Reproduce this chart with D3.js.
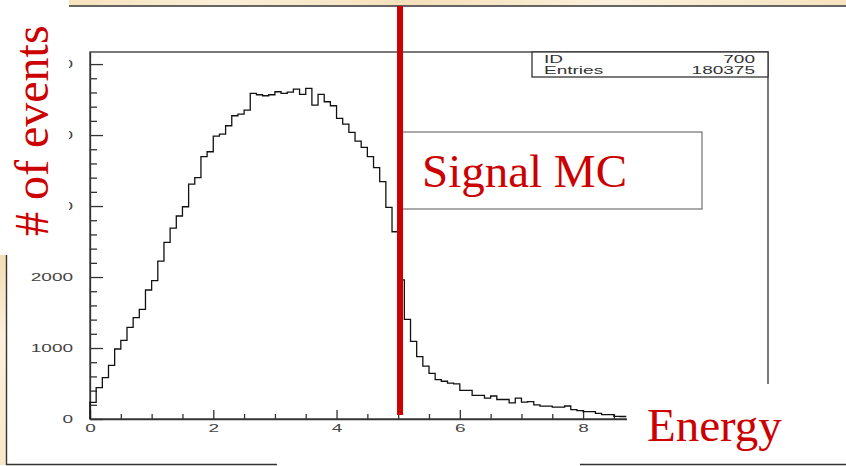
<!DOCTYPE html>
<html>
<head>
<meta charset="utf-8">
<script src="https://cdn.jsdelivr.net/npm/d3@7"></script>
<style>
  html, body { margin: 0; padding: 0; background: #fff; }
  svg { display: block; }
</style>
</head>
<body>
<svg id="chart" width="846" height="466"></svg>
<script>
// Energy histogram, 0.1-wide bins starting at 0
const binWidth = 0.1;
const counts = [
  235, 441, 582, 756, 986, 1108, 1291, 1427, 1545, 1817,
  1948, 2225, 2488, 2690, 2860, 2990, 3310, 3399, 3695, 3765,
  3986, 4014, 4131, 4272, 4296, 4352, 4587, 4568, 4554, 4568,
  4610, 4587, 4606, 4648, 4573, 4657, 4423, 4573, 4469, 4413,
  4235, 4155, 4038, 3915, 3826, 3695, 3540, 3343, 2981, 2638,
  1959, 1403, 1093, 879, 746, 642, 556, 532, 505, 495,
  404, 404, 332, 332, 294, 324, 275, 275, 228, 294,
  237, 246, 199, 180, 180, 166, 166, 183, 132, 118,
  104, 104, 80, 61, 61, 37, 35
];
const xMajorTicks = [0, 2, 4, 6, 8];
const xMinorTicks = [0.5, 1, 1.5, 2.5, 3, 3.5, 4.5, 5, 5.5, 6.5, 7, 7.5, 8.5];
const yMajorTicks = [0, 1000, 2000, 3000, 4000, 5000];
const yMinorTicks = d3.range(200, 5200, 200).filter(v => v % 1000 !== 0);
const statsRows = [["ID", "700"], ["Entries", "180375"]];
const cutEnergy = 5.03;
const signalLabel = "Signal MC";
const xTitle = "Energy";
const yTitle = "# of events";

const svg = d3.select("#chart");
const red = "#cc0000";
const ink = "#333";

const x = d3.scaleLinear().domain([0, 11]).range([90, 768]);
const y = d3.scaleLinear().domain([0, 5170]).range([419, 52]);

// stretch ROOT-style labels horizontally
function widen(sel, k) {
  sel.each(function () {
    const w = this.getComputedTextLength();
    d3.select(this).attr("textLength", w * k).attr("lengthAdjust", "spacingAndGlyphs");
  });
}

// frame
svg.append("rect")
  .attr("x", x(0)).attr("y", y(5170))
  .attr("width", x(11) - x(0)).attr("height", y(0) - y(5170))
  .attr("fill", "none").attr("stroke", ink).attr("stroke-width", 1.3);

// axes
const gx = svg.append("g").attr("transform", `translate(0,${y(0)})`);
gx.call(d3.axisBottom(x).tickValues(xMajorTicks).tickSize(-9).tickSizeOuter(0).tickPadding(6).tickFormat(d3.format("d")));
const gxm = svg.append("g").attr("transform", `translate(0,${y(0)})`);
gxm.call(d3.axisBottom(x).tickValues(xMinorTicks).tickSize(-5).tickFormat(""));
gxm.select(".domain").remove();

const gy = svg.append("g").attr("transform", `translate(${x(0)},0)`);
gy.call(d3.axisLeft(y).tickValues(yMajorTicks).tickSize(-13).tickSizeOuter(0).tickPadding(17).tickFormat(d3.format("d")));
const gym = svg.append("g").attr("transform", `translate(${x(0)},0)`);
gym.call(d3.axisLeft(y).tickValues(yMinorTicks).tickSize(-7).tickFormat(""));
gym.select(".domain").remove();

svg.selectAll(".domain, .tick line").attr("stroke", ink).attr("stroke-width", 1.3);
svg.selectAll(".tick text")
  .attr("font-family", "Liberation Sans, Arial, sans-serif")
  .attr("font-size", 10).attr("fill", "#444");
widen(svg.selectAll(".tick text"), 1.9);

// histogram outline
const pts = [[0, 0]].concat(counts.map((c, i) => [i * binWidth, c]));
pts.push([counts.length * binWidth, counts[counts.length - 1]]);
svg.append("path")
  .attr("d", d3.line().x(d => x(d[0])).y(d => y(d[1])).curve(d3.curveStepAfter)(pts))
  .attr("fill", "none").attr("stroke", "#111").attr("stroke-width", 1.3);

// statistics box
const sb = svg.append("g");
sb.append("rect")
  .attr("x", 532).attr("y", y(5170))
  .attr("width", x(11) - 532).attr("height", 25)
  .attr("fill", "#fff").attr("stroke", ink).attr("stroke-width", 1.3);
statsRows.forEach((r, i) => {
  const by = 62.5 + i * 11.5;
  sb.append("text").attr("class", "st").attr("x", 544).attr("y", by).text(r[0]);
  sb.append("text").attr("class", "st").attr("x", 755).attr("y", by).attr("text-anchor", "end").text(r[1]);
});
sb.selectAll("text.st")
  .attr("font-family", "Liberation Sans, Arial, sans-serif")
  .attr("font-size", 10).attr("fill", "#333");
widen(sb.selectAll("text.st"), 1.9);

// slide text boxes
svg.append("rect").attr("x", 627).attr("y", 384).attr("width", 219).attr("height", 78).attr("fill", "#fff");
svg.append("text")
  .attr("x", 647).attr("y", 441)
  .attr("font-family", "Liberation Serif, Times New Roman, serif")
  .attr("font-size", 47).attr("fill", red).text(xTitle);

svg.append("rect").attr("x", 0).attr("y", 0).attr("width", 69).attr("height", 255).attr("fill", "#fff");
svg.append("text")
  .attr("transform", "translate(48,236) rotate(-90)")
  .attr("font-family", "Liberation Serif, Times New Roman, serif")
  .attr("font-size", 48).attr("fill", red).text(yTitle);

// slide decoration strips
const defs = svg.append("defs");
const gh = defs.append("linearGradient").attr("id", "beigeH");
[[0, "#f6e2bd"], [0.2, "#fbefd8"], [0.45, "#f5e0ba"], [0.7, "#fcf1dc"], [1, "#f6e3c0"]]
  .forEach(s => gh.append("stop").attr("offset", s[0]).attr("stop-color", s[1]));
const gv = defs.append("linearGradient").attr("id", "beigeV").attr("x2", 0).attr("y2", 1);
[[0, "#f3ddb5"], [0.4, "#fcf1dc"], [1, "#f8e8c9"]]
  .forEach(s => gv.append("stop").attr("offset", s[0]).attr("stop-color", s[1]));

svg.append("rect").attr("x", 69).attr("y", 0).attr("width", 777).attr("height", 5.5).attr("fill", "url(#beigeH)");
svg.append("line").attr("x1", 69).attr("x2", 846).attr("y1", 6).attr("y2", 6).attr("stroke", ink).attr("stroke-width", 1.4);

svg.append("rect").attr("x", 0).attr("y", 255).attr("width", 6).attr("height", 210).attr("fill", "url(#beigeV)");
svg.append("path").attr("d", "M6.5,255V464.5H277").attr("fill", "none").attr("stroke", ink).attr("stroke-width", 1.4);
svg.append("line").attr("x1", 580).attr("x2", 846).attr("y1", 464.5).attr("y2", 464.5).attr("stroke", ink).attr("stroke-width", 1.4);

// signal label box
svg.append("rect")
  .attr("x", 402).attr("y", 132).attr("width", 300).attr("height", 77)
  .attr("fill", "#fff").attr("stroke", "#555").attr("stroke-width", 1);
svg.append("text")
  .attr("x", 422).attr("y", 187)
  .attr("font-family", "Liberation Serif, Times New Roman, serif")
  .attr("font-size", 47).attr("fill", red).text(signalLabel);

// energy cut marker
svg.append("line")
  .attr("x1", x(cutEnergy)).attr("x2", x(cutEnergy))
  .attr("y1", 6).attr("y2", y(55))
  .attr("stroke", red).attr("stroke-width", 6);
</script>
</body>
</html>
